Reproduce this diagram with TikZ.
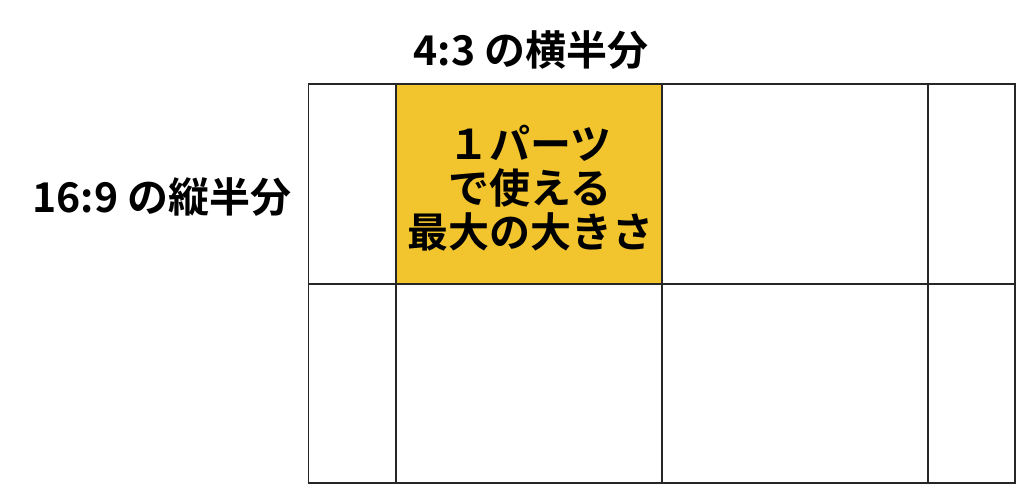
\documentclass[tikz,border=0pt]{standalone}
\usepackage{fontspec}
\newfontfamily\jpfont{Noto Sans CJK JP}[BoldFont={Noto Sans CJK JP Bold}]
\definecolor{partyellow}{RGB}{242,196,45}

\begin{document}
\begin{tikzpicture}[x=1pt,y=-1pt]
  \tikzstyle{every node}=[font=\jpfont\bfseries\fontsize{41}{44}\selectfont]
  \tikzstyle{cell}=[draw=black!85,line width=1.5pt,shape=rectangle,inner sep=0pt,outer sep=0pt]
  \useasboundingbox (0,0) rectangle (1024,493);
% upper row
  \node[cell,minimum width=87.5pt,minimum height=200pt] (up_left)   at (352.25,184) {};
  \node[cell,fill=partyellow,minimum width=266pt,minimum height=200pt] (part) at (529,184) {};
  \node[cell,minimum width=266pt,minimum height=200pt]  (up_mid)    at (795,184)    {};
  \node[cell,minimum width=87pt,minimum height=200pt]   (up_right)  at (971.5,184)  {};
% lower row
  \node[cell,minimum width=87.5pt,minimum height=199pt] (low_left)  at (352.25,383.5) {};
  \node[cell,minimum width=266pt,minimum height=199pt]  (low_part)  at (529,383.5)    {};
  \node[cell,minimum width=266pt,minimum height=199pt]  (low_mid)   at (795,383.5)    {};
  \node[cell,minimum width=87pt,minimum height=199pt]   (low_right) at (971.5,383.5)  {};
% text inside the yellow part
  \node[align=center] (part_text) at (530,188) {１パーツ\\で使える\\最大の大きさ};
% labels
  \node (half_43)  at (531,50)  {4:3 の横半分};
  \node (half_169) at (162,197) {16:9 の縦半分};
\end{tikzpicture}
\end{document}
